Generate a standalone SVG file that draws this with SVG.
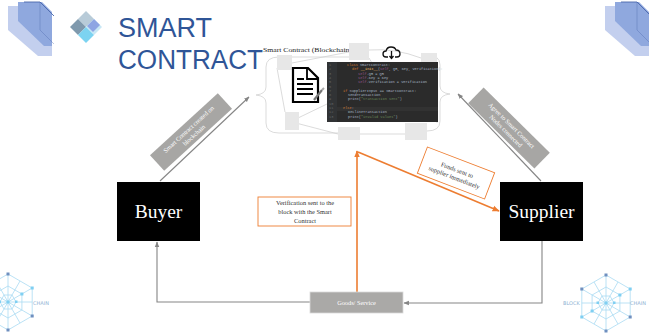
<svg xmlns="http://www.w3.org/2000/svg" width="649" height="336" viewBox="0 0 649 336">
  <style>
    .title { font-family: "Liberation Sans", Arial, sans-serif; font-size: 27px; fill: #2f5597; }
    .serif { font-family: "Liberation Serif", "Times New Roman", serif; }
    .party { font-size: 19.5px; fill: #ffffff; text-anchor: middle; }
    .barText { font-size: 6.3px; fill: #ffffff; text-anchor: middle; }
    .note { font-size: 6.4px; fill: #333333; text-anchor: middle; }
    .gray { fill: #a7a6a4; }
    .conn { fill: none; stroke: #858585; stroke-width: 1.1; }
    .orange { fill: none; stroke: #ed7d31; stroke-width: 1.6; }
    .mesh { fill: none; stroke: #d2d2d2; stroke-width: 0.8; }
    .block { fill: #e7e7e7; }
    .code { font-family: "Liberation Mono", "DejaVu Sans Mono", monospace; font-size: 3.6px; fill: #a9b7c6; }
    .kw { fill: #cc7832; }
    .fn { fill: #ffc66d; }
    .sf { fill: #94558d; }
    .str { fill: #6a8759; }
    .ln { fill: #606366; }
    .chainLine { fill: none; stroke: #a9daf2; stroke-width: 0.8; }
    .chainText { font-family: "DejaVu Sans", sans-serif; font-size: 5px; fill: #8fb3d3; }
  </style>
  <defs>
    <marker id="arrGray" viewBox="0 0 10 10" refX="9" refY="5" markerWidth="5" markerHeight="5" orient="auto">
      <path d="M0,1 L10,5 L0,9 z" fill="#858585"/>
    </marker>
    <marker id="arrOrange" viewBox="0 0 10 10" refX="9" refY="5" markerWidth="4.5" markerHeight="4.5" orient="auto">
      <path d="M0,1 L10,5 L0,9 z" fill="#ed7d31"/>
    </marker>
    <!-- hexagonal chain network emblem, centred at 0,0 -->
    <g id="chainIcon">
      <polygon class="chainLine" points="0,-28 24.2,-14 24.2,14 0,28 -24.2,14 -24.2,-14"/>
      <polygon class="chainLine" points="0,-16 13.9,-8 13.9,8 0,16 -13.9,8 -13.9,-8"/>
      <polygon class="chainLine" points="-8,0 -4,-7 4,-7 8,0 4,7 -4,7"/>
      <path class="chainLine" d="M0,-28 V28 M-24.2,-14 L24.2,14 M-24.2,14 L24.2,-14 M-24.2,0 H24.2 M-12,-21 L12,21 M12,-21 L-12,21"/>
      <g fill="#7fcff2">
        <rect x="22.7" y="-15.5" width="3" height="3"/>
        <rect x="-25.7" y="12.5" width="3" height="3"/>
        <rect x="12.4" y="-9.5" width="3" height="3"/>
        <rect x="-15.4" y="6.5" width="3" height="3"/>
        <rect x="-1.5" y="-1.5" width="3" height="3"/>
        <rect x="-9.5" y="-1.5" width="2.5" height="2.5"/>
        <rect x="7" y="-1.5" width="2.5" height="2.5"/>
      </g>
      <g fill="#6f8fbf">
        <rect x="-1.5" y="-29.5" width="3" height="3"/>
        <rect x="-1.5" y="26.5" width="3" height="3"/>
        <rect x="-25.7" y="-15.5" width="3" height="3"/>
        <rect x="22.7" y="12.5" width="3" height="3"/>
      </g>
    </g>
    <!-- chamfered corner ornament -->
    <g id="cornerPrism">
      <polygon points="0,6 20,6 44,30 44,56 30,56 0,30" fill="#c3cfee"/>
      <polygon points="10,2 34,2 44,12 44,46 36,46 10,21" fill="#8fa8de"/>
      <polyline points="16,2 32,2 46,16" fill="none" stroke="#4a66aa" stroke-width="0.9"/>
      <polyline points="32,2 32,30 46,44" fill="none" stroke="#4a66aa" stroke-width="0.6" opacity="0.6"/>
    </g>
  </defs>

  <rect width="649" height="336" fill="#ffffff"/>

  <!-- corner ornaments -->
  <use href="#cornerPrism" x="8" y="0"/>
  <use href="#cornerPrism" x="605" y="0"/>

  <!-- header -->
  <g id="header">
    <g id="logo">
      <polygon points="86,11 94,19 86,27 78,19" fill="#b8cbd8"/>
      <polygon points="94,19 102,27 94,35 86,27" fill="#c8e7f5"/>
      <polygon points="95,19 101,25 94,26 88,26" fill="#8fa6e2" opacity="0"/>
      <polygon points="94,20 101,27 94,27 87,27" fill="none"/>
      <polygon points="78,19 86,27 78,35 70,27" fill="#7f99ad"/>
      <polygon points="86,27 94,35 86,43 78,35" fill="#7cd3f1"/>
      <polygon points="87,26 94,19 100,25 93,32" fill="#8ea5e3"/>
    </g>
    <text class="title" x="118" y="37" textLength="94" lengthAdjust="spacingAndGlyphs">SMART</text>
    <text class="title" x="118" y="69" textLength="145" lengthAdjust="spacingAndGlyphs">CONTRACT</text>
  </g>

  <!-- blockchain with the contract code -->
  <g id="blockchain">
    <text class="serif" x="263" y="52" font-size="7" fill="#222" textLength="89" lengthAdjust="spacingAndGlyphs">Smart Contract (Blockchain)</text>
    <path class="mesh" d="M279,57 Q266,57 266,67 L266,87 Q266,94 256,95 Q266,96 266,103 L266,123 Q266,133 279,133"/>
    <path class="mesh" d="M427,55 Q440,55 440,65 L440,86 Q440,93 450,94 Q440,95 440,102 L440,121 Q440,131 427,131"/>
    <path class="mesh" d="M279,57 H349 M369,50 Q395,48 421,58 M279,133 H338 M360,134 H405 M427,131 H427 M292,63 L349,52 M292,122 L338,134 M298,118 L327,104 M369,58 L372,63 M437,62 L437,123 M277,68 L285,112"/>
    <rect class="block" x="349" y="43" width="20" height="17"/>
    <rect class="block" x="277" y="55" width="15" height="15"/>
    <rect class="block" x="285" y="112" width="14" height="18"/>
    <rect class="block" x="338" y="127" width="22" height="13"/>
    <rect class="block" x="405" y="123" width="22" height="17"/>
    <rect class="block" x="421" y="53" width="16" height="14"/>

    <!-- document icon -->
    <g id="docIcon">
      <path d="M293,68 H308 L318,78 V102 H293 Z" fill="#ffffff" stroke="#000" stroke-width="2.2" stroke-linejoin="miter"/>
      <path d="M307,68 V79 H318" fill="none" stroke="#000" stroke-width="1.8"/>
      <path d="M297,79 H304 M297,84 H313 M297,89 H313 M297,94 H313" stroke="#000" stroke-width="2"/>
      <path d="M314,100 L322,90" stroke="#777" stroke-width="2.2"/>
      <path d="M322,90 L324,88" stroke="#aaa" stroke-width="2"/>
    </g>

    <!-- cloud download icon -->
    <g id="cloudIcon" fill="none" stroke="#111" stroke-width="1.3">
      <path d="M388,57 H386 Q383,57 383,54 Q383,51 386,51 Q387,47 391,47 Q395,47 396,50 Q400,50 400,54 Q400,57 397,57 H395"/>
      <path d="M391.5,51 V58 M389.5,56 L391.5,58.5 L393.5,56"/>
    </g>

    <!-- contract source listing -->
    <g id="codePanel">
      <rect x="327" y="62" width="111" height="60" fill="#2b2b2b"/>
      <rect x="327" y="62" width="10" height="60" fill="#313335"/>
      <rect x="337" y="107" width="101" height="4" fill="#323232"/>
      <g class="code">
        <text x="329" y="66" class="ln">1</text>
        <text x="329" y="70.3" class="ln">2</text>
        <text x="329" y="74.6" class="ln">3</text>
        <text x="329" y="78.9" class="ln">4</text>
        <text x="329" y="83.2" class="ln">5</text>
        <text x="329" y="87.5" class="ln">6</text>
        <text x="329" y="91.8" class="ln">7</text>
        <text x="329" y="96.1" class="ln">8</text>
        <text x="329" y="100.4" class="ln">9</text>
        <text x="329" y="104.7" class="ln">10</text>
        <text x="329" y="109" class="ln">11</text>
        <text x="329" y="113.3" class="ln">12</text>
        <text x="329" y="117.6" class="ln">13</text>
        <text x="347" y="66"><tspan class="kw">class</tspan> SmartContract:</text>
        <text x="352" y="70.3"><tspan class="kw">def</tspan> <tspan class="fn">__init__</tspan>(<tspan class="sf">self</tspan>, QR, Key, Verification):</text>
        <text x="358" y="74.6"><tspan class="sf">self</tspan>.QR = QR</text>
        <text x="358" y="78.9"><tspan class="sf">self</tspan>.Key = Key</text>
        <text x="358" y="83.2"><tspan class="sf">self</tspan>.Verification = Verification</text>
        <text x="343" y="91.8"><tspan class="kw">if</tspan> SupplierInput == SmartContract:</text>
        <text x="348" y="96.1">SendTransaction</text>
        <text x="348" y="100.4">print(<tspan class="str">"transaction sent"</tspan>)</text>
        <text x="343" y="109"><tspan class="kw">else</tspan>:</text>
        <text x="348" y="113.3">DeclineTransaction</text>
        <text x="348" y="117.6">print(<tspan class="str">"invalid values"</tspan>)</text>
      </g>
    </g>
  </g>

  <!-- connectors -->
  <g id="connectors">
    <line class="conn" x1="160" y1="181" x2="249" y2="97" marker-end="url(#arrGray)"/>
    <line class="conn" x1="541" y1="181" x2="458" y2="94" marker-end="url(#arrGray)"/>
    <polyline class="conn" points="542,241 542,303 404,303" marker-end="url(#arrGray)"/>
    <polyline class="conn" points="310,302 157,302 157,242" marker-end="url(#arrGray)"/>
    <line class="orange" x1="357" y1="292" x2="357" y2="151" marker-end="url(#arrOrange)"/>
    <line class="orange" x1="358" y1="152" x2="499" y2="211" marker-end="url(#arrOrange)"/>
  </g>

  <!-- connector labels -->
  <g id="labelCreated" transform="translate(191,132) rotate(-42.5)">
    <rect class="gray" x="-46" y="-10.5" width="92" height="21"/>
    <text class="serif barText" x="0" y="-1.5">Smart Contract created on</text>
    <text class="serif barText" x="0" y="6.5">blockchain</text>
  </g>
  <g id="labelAgree" transform="translate(509,128) rotate(44.6)">
    <rect class="gray" x="-46.5" y="-11" width="93" height="22"/>
    <text class="serif barText" x="0" y="-1.5">Agree to Smart Contract</text>
    <text class="serif barText" x="0" y="6.5">Nodes connected</text>
  </g>
  <g id="labelVerification">
    <rect x="258" y="197" width="93" height="29" fill="#ffffff" stroke="#ed7d31" stroke-width="0.9"/>
    <text class="serif note" x="305" y="204.5">Verification sent to the</text>
    <text class="serif note" x="305" y="213.5">block with the Smart</text>
    <text class="serif note" x="305" y="222.5">Contract</text>
  </g>
  <g id="labelFunds" transform="translate(456,173) rotate(21)">
    <rect x="-36" y="-14" width="72" height="28" fill="#ffffff" stroke="#ed7d31" stroke-width="0.9"/>
    <text class="serif note" x="0" y="-1">Funds sent to</text>
    <text class="serif note" x="0" y="7">supplier immediately</text>
  </g>

  <!-- parties -->
  <g id="buyer">
    <rect x="117" y="182" width="83" height="59" fill="#000000"/>
    <text class="serif party" x="158.5" y="218">Buyer</text>
  </g>
  <g id="supplier">
    <rect x="500" y="182" width="83" height="59" fill="#000000"/>
    <text class="serif party" x="541.5" y="218">Supplier</text>
  </g>
  <g id="goods">
    <rect x="310" y="292" width="93" height="21" fill="#aaa9a7" stroke="#d9d9d9" stroke-width="0.8"/>
    <text class="serif barText" x="356.5" y="305">Goods/ Service</text>
  </g>

  <!-- chain emblems -->
  <g id="chainLeft">
    <use href="#chainIcon" transform="translate(8,302)"/>
    <text class="chainText" x="33" y="305">CHAIN</text>
  </g>
  <g id="chainRight">
    <use href="#chainIcon" transform="translate(606,303)"/>
    <text class="chainText" x="563" y="305">BLOCK</text>
    <text class="chainText" x="630" y="305">CHAIN</text>
  </g>
</svg>
